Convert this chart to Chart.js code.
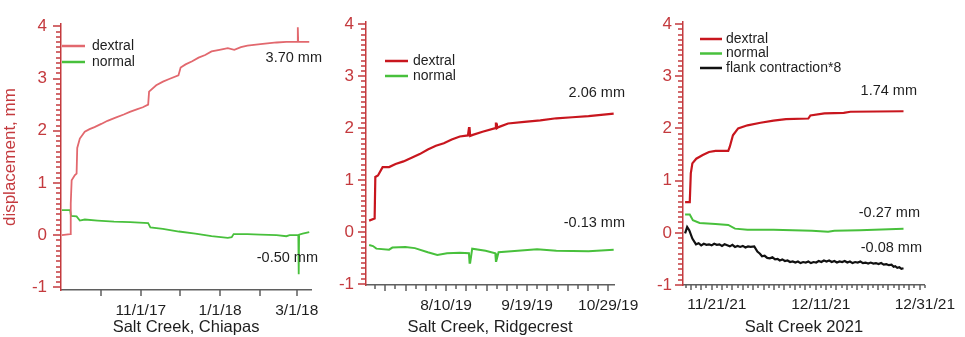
<!DOCTYPE html>
<html>
<head>
<meta charset="utf-8">
<script src="https://cdn.jsdelivr.net/npm/chart.js@4.4.1/dist/chart.umd.min.js"></script>
<style>
  html, body { margin: 0; padding: 0; background: #fff; }
  #wrap { position: relative; width: 965px; height: 337px; overflow: hidden; }
  canvas { position: absolute; top: 0; }
</style>
</head>
<body>
<div id="wrap">
  <canvas id="chiapas" width="330" height="337" style="left:0"></canvas>
  <canvas id="ridgecrest" width="320" height="337" style="left:330px"></canvas>
  <canvas id="salt2021" width="315" height="337" style="left:650px"></canvas>
</div>
<script>
// ---- data (x = days since start of each record window) ----
// Chiapas: days since 9/1/17
const chiapasDays = [61, 122, 181];
const chiapasLabels = ['11/1/17', '1/1/18', '3/1/18'];
const chiapasMonthDays = [30, 61, 91, 122, 153, 181];
const chiapasDextralX = [0.2, 6.5, 7.0, 7.7, 10.2, 11.5, 12.0, 14.0, 17.8, 21.5, 25.3, 30.5, 35.3, 41.5, 47.8, 52.5, 57.8, 62.5, 66.6, 67.3, 72.8, 78.0, 82.8, 89.9, 91.6, 95.4, 100.5, 105.4, 110.5, 115.4, 121.5, 127.9, 132.9, 138.0, 143.0, 153.0, 165.5, 173.0, 181.5, 181.8, 182.1, 190.6];
const chiapasDextralY = [0.00, 0.02, 0.60, 1.05, 1.15, 1.18, 1.67, 1.85, 1.98, 2.03, 2.07, 2.13, 2.19, 2.25, 2.31, 2.36, 2.41, 2.45, 2.50, 2.75, 2.87, 2.94, 2.99, 3.06, 3.21, 3.27, 3.33, 3.40, 3.45, 3.52, 3.55, 3.58, 3.55, 3.60, 3.63, 3.66, 3.69, 3.70, 3.70, 3.98, 3.70, 3.70];
const chiapasNormalX = [0.2, 6.5, 7.2, 11.5, 14.0, 17.8, 27.7, 40.3, 52.8, 66.6, 68.3, 77.9, 90.3, 102.9, 115.4, 127.9, 130.9, 132.4, 143.0, 153.0, 165.5, 173.0, 175.5, 182.2, 182.5, 182.8, 185.5, 190.6];
const chiapasNormalY = [0.48, 0.48, 0.37, 0.36, 0.28, 0.30, 0.28, 0.26, 0.25, 0.23, 0.15, 0.12, 0.07, 0.03, -0.02, -0.05, -0.04, 0.02, 0.02, 0.01, 0.00, -0.02, 0.00, 0.00, -0.75, 0.01, 0.03, 0.06];

// Ridgecrest: days since 7/1/19
const ridgeDays = [40, 80, 120];
const ridgeLabels = ['8/10/19', '9/19/19', '10/29/19'];
const ridgeDextralX = [2.05, 4.76, 5.1, 6.4, 8.7, 11.9, 15.1, 19.0, 23.0, 27.0, 31.0, 35.0, 38.9, 42.8, 46.8, 50.8, 51.3, 51.6, 51.9, 53.2, 58.0, 64.3, 64.6, 64.8, 65.1, 65.9, 70.6, 78.6, 86.5, 94.4, 102.3, 110.3, 122.7];
const ridgeDextralY = [0.22, 0.26, 1.06, 1.09, 1.25, 1.25, 1.31, 1.36, 1.43, 1.50, 1.59, 1.66, 1.71, 1.78, 1.84, 1.86, 2.00, 2.00, 1.85, 1.87, 1.93, 2.00, 2.09, 2.09, 2.00, 2.02, 2.09, 2.12, 2.15, 2.19, 2.21, 2.23, 2.28];
const ridgeNormalX = [2.05, 3.95, 5.6, 11.9, 13.5, 19.9, 24.6, 31.0, 35.7, 40.5, 46.8, 51.3, 51.6, 51.9, 52.9, 59.5, 64.3, 64.6, 64.8, 65.9, 72.2, 84.9, 94.4, 110.3, 122.7];
const ridgeNormalY = [-0.25, -0.27, -0.32, -0.34, -0.30, -0.29, -0.31, -0.39, -0.44, -0.41, -0.40, -0.41, -0.59, -0.59, -0.32, -0.36, -0.41, -0.56, -0.56, -0.39, -0.37, -0.33, -0.36, -0.37, -0.34];

// Salt Creek 2021: days since 11/1/21
const saltDays = [20, 40, 60];
const saltLabels = ['11/21/21', '12/11/21', '12/31/21'];
const saltDextralX = [13.9, 14.8, 15.0, 15.3, 16.05, 17.3, 18.5, 19.75, 22.2, 22.5, 23.1, 24.1, 25.9, 28.4, 30.9, 33.3, 37.6, 38.0, 40.7, 44.4, 45.7, 55.9];
const saltDextralY = [0.59, 0.59, 1.14, 1.33, 1.42, 1.49, 1.55, 1.57, 1.57, 1.65, 1.87, 2.00, 2.06, 2.11, 2.15, 2.18, 2.19, 2.25, 2.29, 2.30, 2.32, 2.33];
const saltNormalX = [13.9, 14.8, 15.4, 16.7, 19.75, 22.2, 23.5, 25.9, 30.9, 38.3, 41.4, 42.6, 47.5, 55.9];
const saltNormalY = [0.35, 0.35, 0.24, 0.19, 0.17, 0.15, 0.08, 0.06, 0.06, 0.04, 0.02, 0.04, 0.05, 0.08];
const saltFlankX = [13.9, 14.3, 14.7, 15.3, 16.0, 16.5, 17.0, 17.5, 18.0, 18.5, 19.0, 19.5, 20.0, 20.5, 21.0, 21.5, 22.0, 22.5, 23.0, 23.5, 24.0, 24.5, 25.0, 25.5, 26.0, 26.5, 27.2, 27.8, 28.3, 28.7, 29.2, 29.7, 30.2, 30.7, 31.2, 31.7, 32.1, 32.6, 33.1, 33.6, 34.1, 34.6, 35.1, 35.6, 36.1, 36.6, 37.1, 37.6, 38.1, 38.6, 39.1, 39.6, 40.1, 40.6, 41.1, 41.6, 42.1, 42.6, 43.1, 43.6, 44.1, 44.6, 45.1, 45.6, 46.1, 46.6, 47.1, 47.6, 48.1, 48.6, 49.1, 49.6, 50.1, 50.6, 51.1, 51.6, 52.1, 52.6, 53.1, 53.6, 54.0, 54.3, 54.7, 55.1, 55.5, 55.9];
const saltFlankY = [-0.01, 0.11, 0.05, -0.11, -0.22, -0.20, -0.24, -0.21, -0.23, -0.22, -0.24, -0.21, -0.23, -0.22, -0.25, -0.22, -0.24, -0.26, -0.23, -0.27, -0.25, -0.27, -0.25, -0.28, -0.26, -0.27, -0.26, -0.36, -0.40, -0.45, -0.44, -0.48, -0.49, -0.47, -0.51, -0.50, -0.53, -0.51, -0.54, -0.53, -0.56, -0.55, -0.57, -0.55, -0.58, -0.56, -0.57, -0.55, -0.58, -0.56, -0.57, -0.54, -0.56, -0.53, -0.55, -0.53, -0.56, -0.54, -0.57, -0.55, -0.56, -0.54, -0.57, -0.55, -0.58, -0.56, -0.57, -0.55, -0.58, -0.57, -0.59, -0.57, -0.59, -0.58, -0.60, -0.58, -0.61, -0.60, -0.62, -0.61, -0.65, -0.64, -0.67, -0.66, -0.69, -0.68];

const yTickValues = [-1, 0, 1, 2, 3, 4];

// ---- styling ----
const FONT = '"Liberation Sans", Arial, Helvetica, sans-serif';
const AXIS_RED = 'rgb(196,58,62)';
const AXIS_GREY = '#5f5f5f';
const TEXT = '#1e1e1e';
const PINK = 'rgb(226,104,110)';
const RED = 'rgb(200,22,30)';
const GREEN = 'rgb(72,192,60)';
const BLACK = '#111';

// tick marks, end-value notes and legend, drawn against the chart's scales
const panelDecor = {
    id: 'panelDecor',
    afterDraw(chart, args, opts) {
        const ctx = chart.ctx;
        const xs = chart.scales.x;
        const ys = chart.scales.y;
        const area = chart.chartArea;
        ctx.save();

        // y minor ticks every 0.1, longer at whole numbers
        ctx.fillStyle = AXIS_RED;
        for (let i = -10; i <= 40; i++) {
            const py = Math.round(ys.getPixelForValue(i / 10));
            const len = i % 10 === 0 ? 8 : 5;
            ctx.fillRect(area.left - len, py - 0.75, len, 1.5);
        }

        // x ticks
        ctx.fillStyle = AXIS_GREY;
        const xt = opts.xTicks;
        for (let i = 0; i < xt.length; i++) {
            const px = Math.round(xs.getPixelForValue(xt[i][0]));
            ctx.fillRect(px - 0.75, area.bottom, 1.5, xt[i][1]);
        }

        // legend
        const lg = opts.legend;
        ctx.font = '14px ' + FONT;
        ctx.textBaseline = 'middle';
        ctx.textAlign = 'left';
        chart.data.datasets.forEach((ds, i) => {
            const y = lg.y + i * lg.gap;
            ctx.strokeStyle = ds.borderColor;
            ctx.lineWidth = 2.5;
            ctx.beginPath();
            ctx.moveTo(lg.x1, y);
            ctx.lineTo(lg.x2, y);
            ctx.stroke();
            ctx.fillStyle = TEXT;
            ctx.fillText(ds.label, lg.tx, y);
        });

        // end values
        ctx.font = '14.5px ' + FONT;
        ctx.textAlign = 'right';
        ctx.fillStyle = TEXT;
        opts.notes.forEach(n => ctx.fillText(n.text, n.x, n.y));
        ctx.restore();
    }
};

function toPoints(xs, ys) {
    return xs.map((x, i) => ({ x: x, y: ys[i] }));
}

function makePanel(id, p) {
    const datasets = p.series.map(s => ({
        label: s.label,
        data: toPoints(s.xs, s.ys),
        borderColor: s.color,
        borderWidth: s.width,
        pointRadius: 0,
        tension: 0,
        fill: false
    }));

    return new Chart(document.getElementById(id), {
        type: 'line',
        data: { datasets: datasets },
        options: {
            responsive: false,
            animation: false,
            devicePixelRatio: 1,
            layout: { padding: { top: p.padTop, right: p.padRight, left: 0, bottom: 0 } },
            plugins: {
                legend: { display: false },
                tooltip: { enabled: false },
                panelDecor: { xTicks: p.xTicks, legend: p.legend, notes: p.notes }
            },
            scales: {
                x: {
                    type: 'linear',
                    min: p.xMin,
                    max: p.xMax,
                    grid: { display: false, drawTicks: false },
                    border: { display: true, color: AXIS_GREY, width: 1.5 },
                    afterBuildTicks: s => { s.ticks = p.xDays.map(v => ({ value: v })); },
                    afterFit: s => { s.height = p.xHeight; },
                    ticks: {
                        autoSkip: false,
                        maxRotation: 0,
                        padding: p.xPad,
                        color: TEXT,
                        font: { family: FONT, size: 15.5 },
                        callback: (v, i) => p.xLabels[i]
                    },
                    title: {
                        display: true,
                        text: p.title,
                        color: TEXT,
                        font: { family: FONT, size: 16.5 },
                        padding: { top: 0, bottom: 0 }
                    }
                },
                y: {
                    min: p.yMin,
                    max: p.yMax,
                    grid: { display: false, drawTicks: false },
                    border: { display: true, color: AXIS_RED, width: 1.5 },
                    afterBuildTicks: s => { s.ticks = yTickValues.map(v => ({ value: v })); },
                    afterFit: s => { s.width = p.yWidth; },
                    ticks: {
                        padding: p.yPad,
                        color: AXIS_RED,
                        font: { family: FONT, size: 17 }
                    },
                    title: {
                        display: !!p.yTitle,
                        text: p.yTitle || '',
                        color: AXIS_RED,
                        font: { family: FONT, size: 17 },
                        padding: { top: 0, bottom: 0 }
                    }
                }
            }
        },
        plugins: [panelDecor]
    });
}

// [position, length] pairs for the x tick marks
function tickList(from, to, step, bigEvery, bigLen, smallLen) {
    const out = [];
    for (let v = from, k = 0; v <= to + 1e-9; v += step, k++) {
        out.push([v, (k % bigEvery === 0) ? bigLen : smallLen]);
    }
    return out;
}

try {
    makePanel('chiapas', {
        series: [
            { label: 'dextral', xs: chiapasDextralX, ys: chiapasDextralY, color: PINK, width: 1.8 },
            { label: 'normal', xs: chiapasNormalX, ys: chiapasNormalY, color: GREEN, width: 1.8 }
        ],
        xMin: -0.5, xMax: 192, yMin: -1.05, yMax: 4.04,
        xDays: chiapasDays, xLabels: chiapasLabels,
        xTicks: chiapasMonthDays.map(v => [v, 6]),
        padTop: 15, padRight: 12, yWidth: 61, xHeight: 47, xPad: 11, yPad: 14,
        title: 'Salt Creek, Chiapas',
        yTitle: 'displacement, mm',
        legend: { x1: 62, x2: 85, tx: 92, y: 46, gap: 16 },
        notes: [
            { text: '3.70 mm', x: 322, y: 58 },
            { text: '-0.50 mm', x: 318, y: 258 }
        ]
    });

    makePanel('ridgecrest', {
        series: [
            { label: 'dextral', xs: ridgeDextralX, ys: ridgeDextralY, color: RED, width: 2.2 },
            { label: 'normal', xs: ridgeNormalX, ys: ridgeNormalY, color: GREEN, width: 2 }
        ],
        xMin: 0.5, xMax: 122.9, yMin: -1.02, yMax: 4.04,
        xDays: ridgeDays, xLabels: ridgeLabels,
        xTicks: tickList(5, 120, 5, 2, 4, 6),
        padTop: 15, padRight: 27, yWidth: 36, xHeight: 52, xPad: 11, yPad: 12,
        title: 'Salt Creek, Ridgecrest',
        legend: { x1: 55, x2: 78, tx: 83, y: 61, gap: 15 },
        notes: [
            { text: '2.06 mm', x: 295, y: 93 },
            { text: '-0.13 mm', x: 295, y: 223 }
        ]
    });

    makePanel('salt2021', {
        series: [
            { label: 'dextral', xs: saltDextralX, ys: saltDextralY, color: RED, width: 2.2 },
            { label: 'normal', xs: saltNormalX, ys: saltNormalY, color: GREEN, width: 2 },
            { label: 'flank contraction*8', xs: saltFlankX, ys: saltFlankY, color: BLACK, width: 2.2 }
        ],
        xMin: 13.5, xMax: 60, yMin: -1.0, yMax: 4.04,
        xDays: saltDays, xLabels: saltLabels,
        xTicks: tickList(14, 60, 1, 2, 3, 5),
        padTop: 22, padRight: 31, yWidth: 33, xHeight: 52, xPad: 10, yPad: 11,
        title: 'Salt Creek 2021',
        legend: { x1: 50, x2: 72, tx: 76, y: 39, gap: 14.5 },
        notes: [
            { text: '1.74 mm', x: 267, y: 91 },
            { text: '-0.27 mm', x: 270, y: 213 },
            { text: '-0.08 mm', x: 272, y: 248 }
        ]
    });
} catch (error) {
    console.error(error.message);
}
</script>
</body>
</html>
